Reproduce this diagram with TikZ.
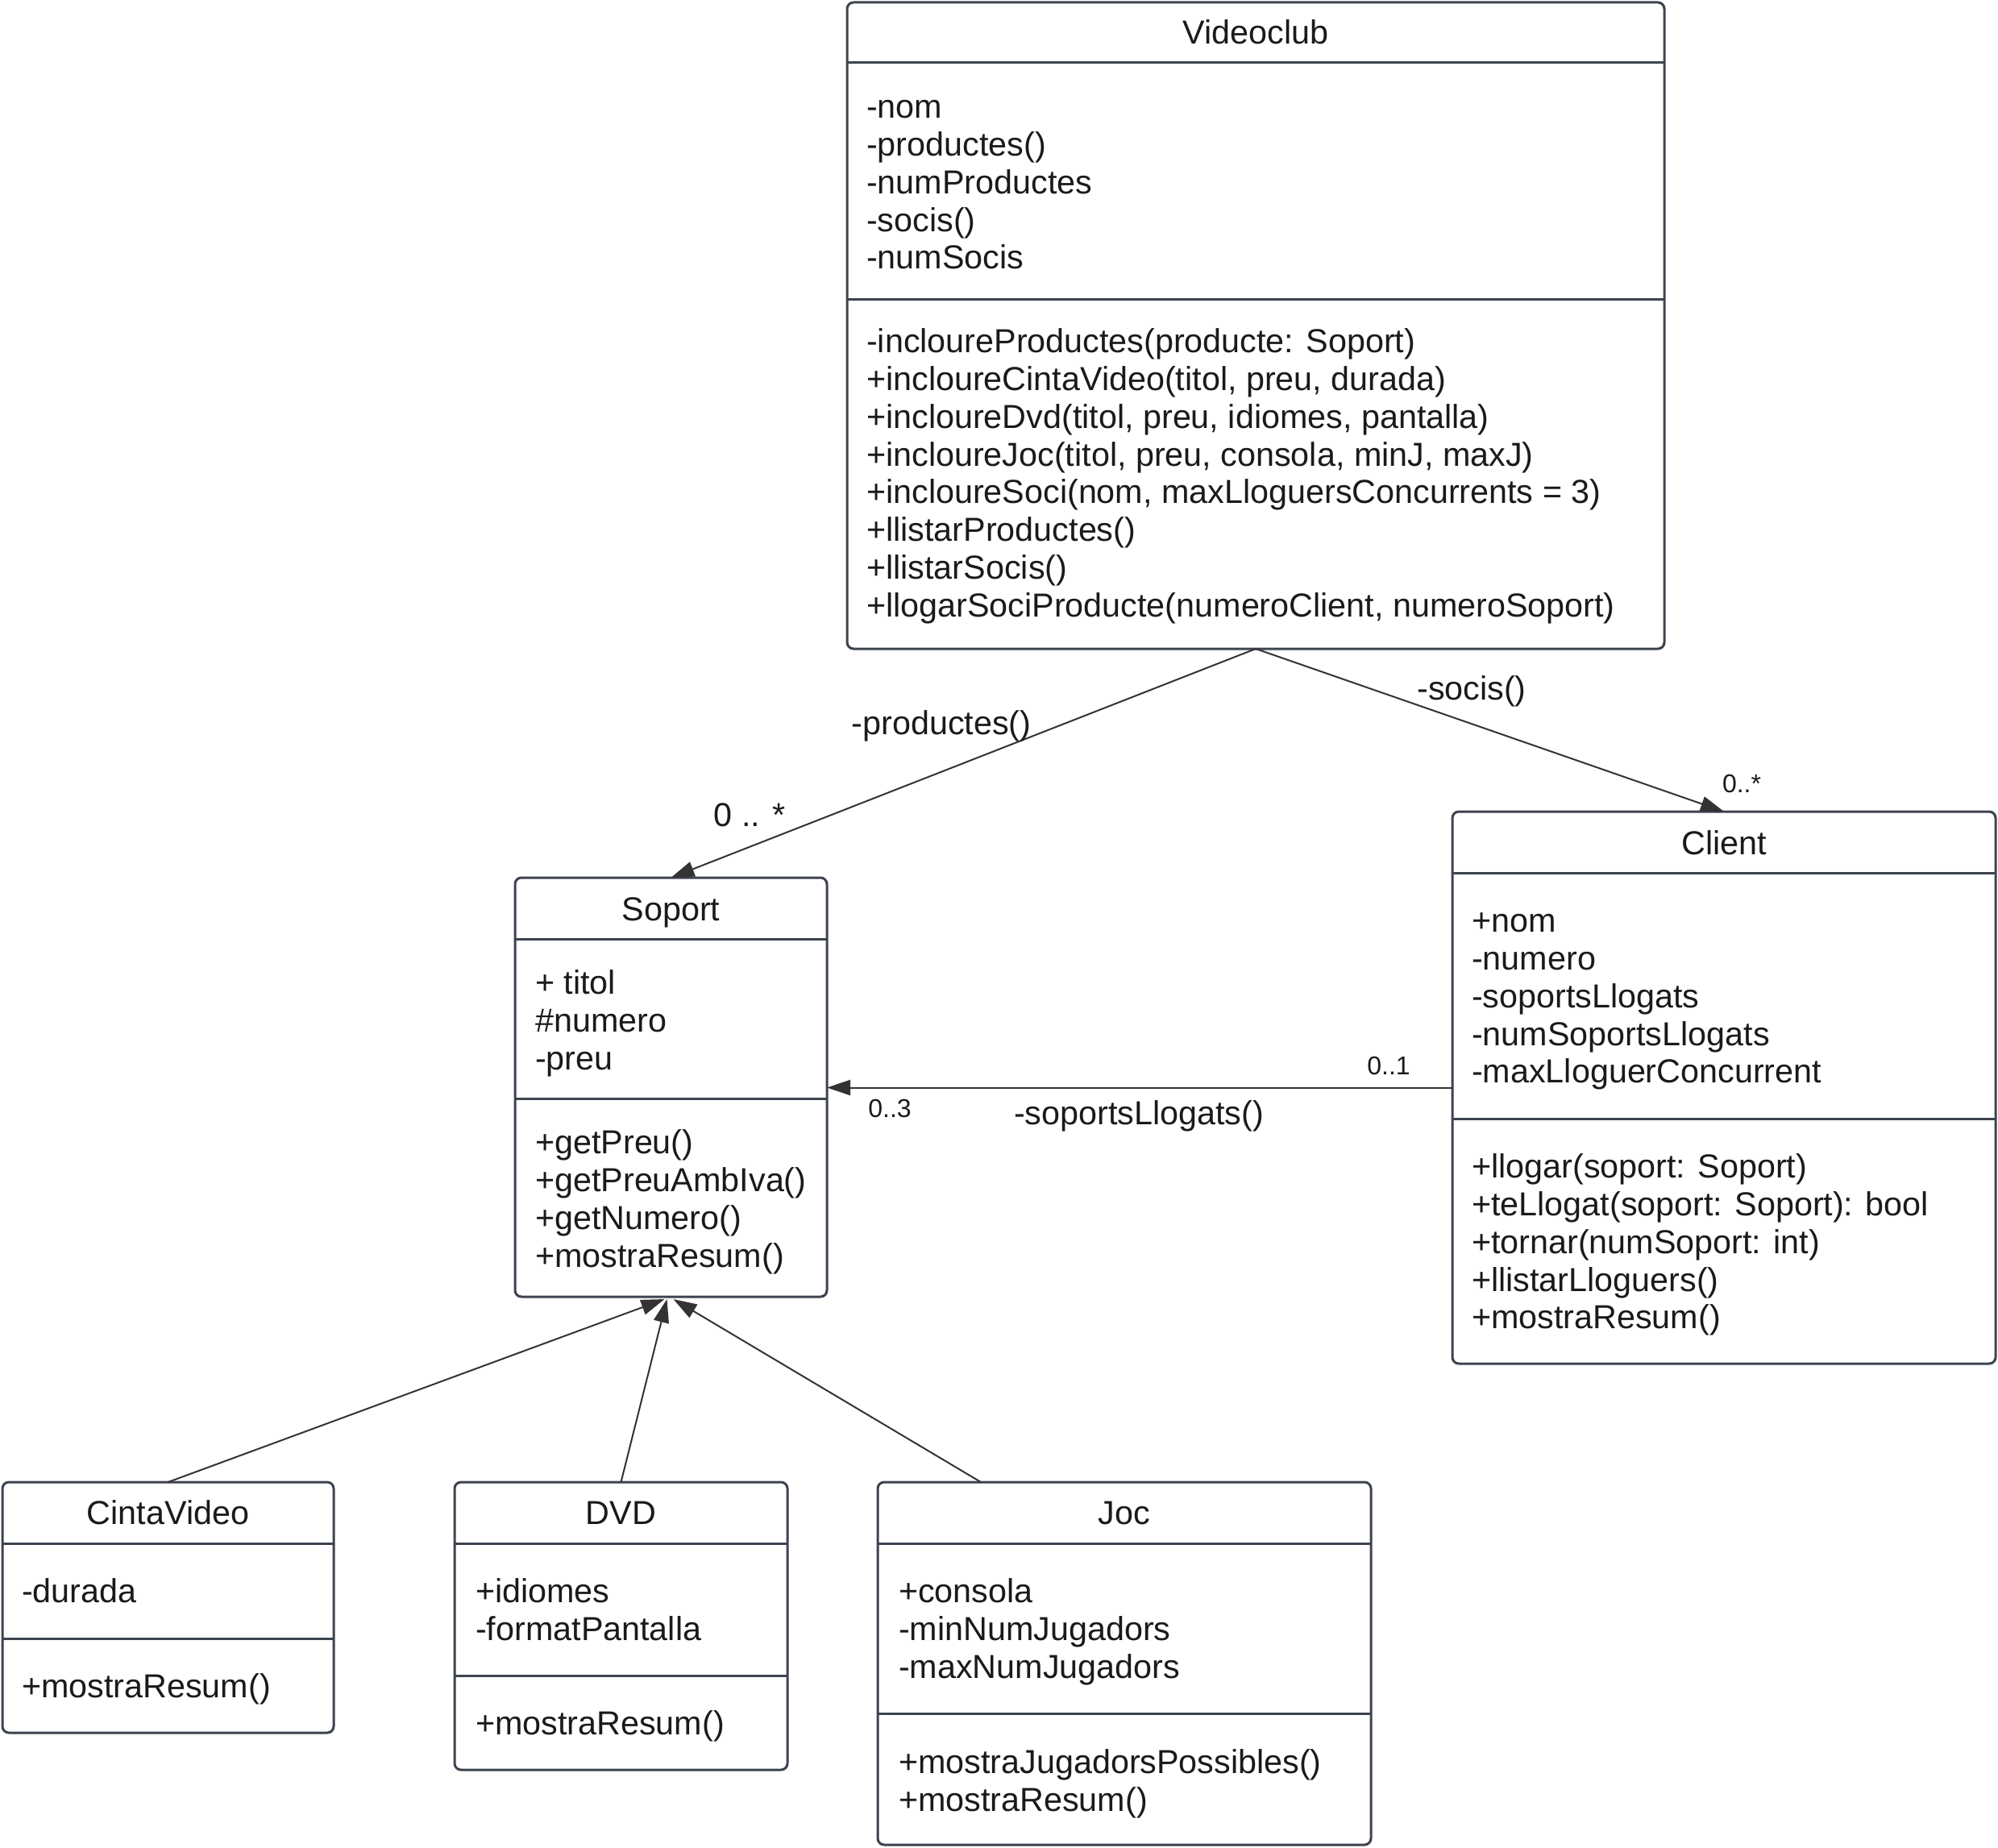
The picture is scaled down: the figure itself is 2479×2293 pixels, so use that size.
\documentclass[tikz,border=0pt]{standalone}
\usepackage{fontspec}
\setmainfont{Liberation Sans}
\usetikzlibrary{arrows.meta,calc}
\definecolor{boxc}{HTML}{3D434F}
\definecolor{linec}{HTML}{333333}
\definecolor{txtc}{HTML}{1A1A1A}
\tikzset{
  cls/.style={draw=boxc, line width=3pt, rounded corners=8pt, inner sep=0pt, outer sep=0pt, anchor=north west, fill=white},
  divline/.style={draw=boxc, line width=3pt},
  txt/.style={anchor=mid west, inner sep=0pt, yshift=-11pt, text=txtc, font=\fontsize{41.3}{48}\selectfont},
  ttl/.style={anchor=mid, inner sep=0pt, yshift=-11pt, text=txtc, font=\fontsize{41.3}{48}\selectfont},
  lbl/.style={anchor=mid, inner sep=0pt, yshift=-11pt, text=txtc, font=\fontsize{41.3}{48}\selectfont},
  slbl/.style={anchor=mid, inner sep=0pt, yshift=-9pt, text=txtc, font=\fontsize{32}{36}\selectfont},
  conn/.style={draw=linec, line width=2pt, -{Triangle[length=29pt,width=19pt]}},
}
\newcommand{\classbox}[7]{%
  \node[cls, minimum width=#4pt, minimum height=#5pt] (#1) at (#2,#3) {};
  \draw[divline] ($(#1.north west)+(0,#6)$) -- ($(#1.north east)+(0,#6)$);
  \draw[divline] ($(#1.north west)+(0,#7)$) -- ($(#1.north east)+(0,#7)$);
}
\newcommand{\txtlines}[4]{%
  \foreach \t [count=\i from 0] in {#4} {
    \node[txt] (#1\i) at (#2, #3+\i*46.8) {\t};
  }
}
\begin{document}
\begin{tikzpicture}[x=1pt, y=-1pt]
\useasboundingbox (0,0) rectangle (2479,2293);

% Videoclub
\classbox{vc}{1051}{3}{1014}{802}{74.5}{368.5}
\node[ttl] (vcT) at (1558,41) {Videoclub};
\txtlines{vcA}{1075}{133}{{-nom},{-productes()},{-numProductes},{-socis()},{-numSocis}}
\txtlines{vcM}{1075}{424}{{-incloureProductes(producte: Soport)},{+incloureCintaVideo(titol, preu, durada)},{+incloureDvd(titol, preu, idiomes, pantalla)},{+incloureJoc(titol, preu, consola, minJ, maxJ)},{+incloureSoci(nom, maxLloguersConcurrents = 3)},{+llistarProductes()},{+llistarSocis()},{+llogarSociProducte(numeroClient, numeroSoport)}}

% Soport
\classbox{soport}{639}{1089}{387}{520}{76}{274}
\node[ttl] (soportT) at (832.5,1129) {Soport};
\txtlines{soA}{664}{1220}{{+ titol},{\#numero},{-preu}}
\txtlines{soM}{664}{1418}{{+getPreu()},{+getPreuAmbIva()},{+getNumero()},{+mostraResum()}}

% Client
\classbox{client}{1802}{1007}{674}{685}{76}{381}
\node[ttl] (clientT) at (2139,1047) {Client};
\txtlines{clA}{1826}{1143}{{+nom},{-numero},{-soportsLlogats},{-numSoportsLlogats},{-maxLloguerConcurrent}}
\txtlines{clM}{1826}{1448}{{+llogar(soport: Soport)},{+teLlogat(soport: Soport): bool},{+tornar(numSoport: int)},{+llistarLloguers()},{+mostraResum()}}

% CintaVideo
\classbox{cinta}{3}{1839}{411}{311}{76}{194}
\node[ttl] (cintaT) at (208.5,1878) {CintaVideo};
\txtlines{ciA}{27}{1975}{{-durada}}
\txtlines{ciM}{27}{2093}{{+mostraResum()}}

% DVD
\classbox{dvd}{564}{1839}{413}{357}{76}{240}
\node[ttl] (dvdT) at (770.5,1878) {DVD};
\txtlines{dvA}{590}{1975}{{+idiomes},{-formatPantalla}}
\txtlines{dvM}{590}{2139}{{+mostraResum()}}

% Joc
\classbox{joc}{1089}{1839}{612}{450}{76}{287}
\node[ttl] (jocT) at (1395,1878) {Joc};
\txtlines{joA}{1115}{1975}{{+consola},{-minNumJugadors},{-maxNumJugadors}}
\txtlines{joM}{1115}{2187}{{+mostraJugadorsPossibles()},{+mostraResum()}}

% Associations
\draw[conn] (vc.south) -- (soport.north);
\draw[conn] (vc.south) -- (client.north);
\draw[conn] (client.west) -- (soport.east |- client.west);

\node[lbl] (l1) at (1168,898) {-productes()};
\node[lbl] (l2) at (930,1012) {0 .. *};
\node[lbl] (l3) at (1826,855) {-socis()};
\node[slbl] (l4) at (2161,972) {0..*};
\node[slbl] (l5) at (1723,1322) {0..1};
\node[slbl] (l6) at (1104,1375) {0..3};
\node[lbl] (l7) at (1413,1382) {-soportsLlogats()};

% Generalizations
\draw[conn] (cinta.north) -- ($(soport.south)+(-8,3)$);
\draw[conn] (dvd.north) -- ($(soport.south)+(-5,3)$);
\draw[conn] ($(joc.north west)+(128,0)$) -- ($(soport.south)+(3,3)$);
\end{tikzpicture}
\end{document}
